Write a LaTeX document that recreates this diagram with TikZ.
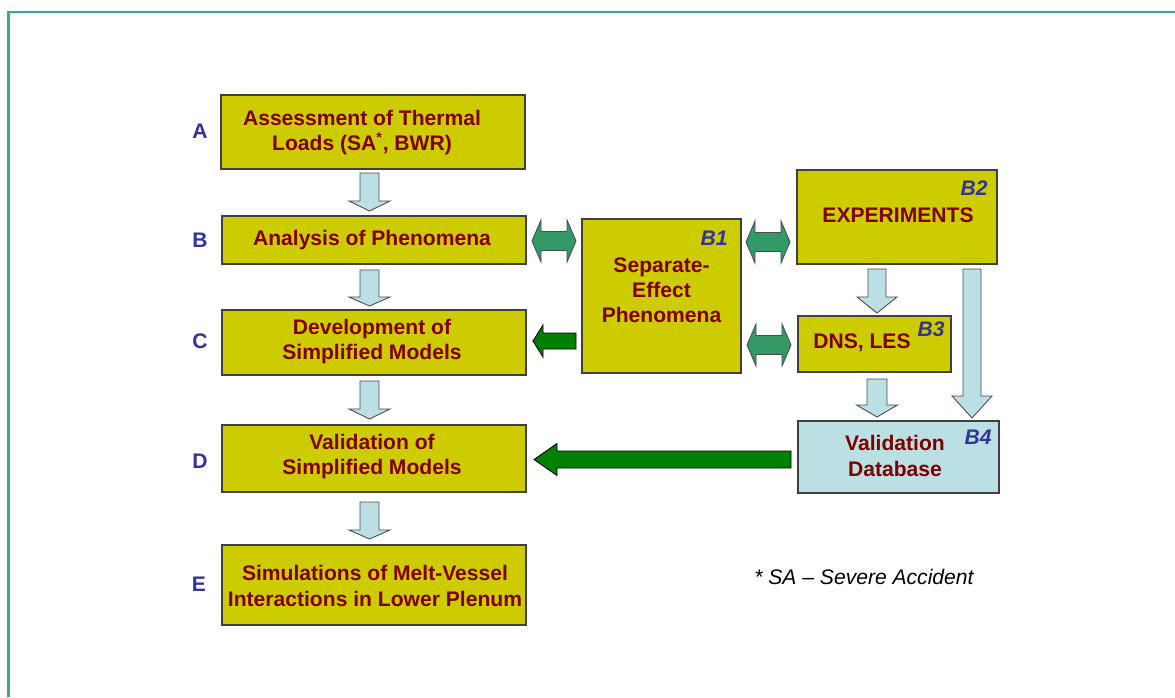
\documentclass[tikz,border=0pt]{standalone}
\usepackage{fontspec}
\setmainfont{Liberation Sans}
\usetikzlibrary{fit}

\definecolor{boxyellow}{RGB}{204,204,0}
\definecolor{boxblue}{RGB}{187,224,227}
\definecolor{txtred}{RGB}{128,0,0}
\definecolor{tagblue}{RGB}{51,51,153}
\definecolor{linkgreen}{RGB}{51,153,102}
\definecolor{feedgreen}{RGB}{0,128,0}
\definecolor{frameteal}{RGB}{60,168,148}

% downward block arrow: x, top y, head-base y, tip y, half shaft, half head
\newcommand\flowdown[6]{%
  \draw[flowarrow] (#1-#5,#2) -- (#1+#5,#2) -- (#1+#5,#3) -- (#1+#6,#3)
    -- (#1,#4) -- (#1-#6,#3) -- (#1-#5,#3) -- cycle;}
% leftward block arrow: centre y, tail x, head-base x, tip x, half shaft, half head
\newcommand\feedleft[6]{%
  \draw[feedarrow] (#2,#1-#5) -- (#3,#1-#5) -- (#3,#1-#6) -- (#4,#1)
    -- (#3,#1+#6) -- (#3,#1+#5) -- (#2,#1+#5) -- cycle;}
% two-headed block arrow: centre y, left tip, left base, right base, right tip, half shaft, half head
\newcommand\linkboth[7]{%
  \draw[linkarrow] (#2,#1) -- (#3,#1-#7) -- (#3,#1-#6) -- (#4,#1-#6) -- (#4,#1-#7)
    -- (#5,#1) -- (#4,#1+#7) -- (#4,#1+#6) -- (#3,#1+#6) -- (#3,#1+#7) -- cycle;}

\begin{document}
\begin{tikzpicture}[x=0.02cm, y=-0.02cm,
  box/.style={draw=black!75, line width=0.6pt, fill=boxyellow, inner sep=0pt},
  bluebox/.style={box, fill=boxblue},
  body/.style={text=txtred, align=center, inner sep=0pt,
    font=\fontsize{12}{14.3}\selectfont\bfseries},
  tag/.style={text=tagblue, inner sep=0pt, font=\fontsize{12}{14}\selectfont\bfseries},
  btag/.style={text=tagblue, inner sep=0pt, font=\fontsize{12}{14}\selectfont\bfseries\itshape},
  flowarrow/.style={fill=boxblue, draw=black!70, line width=0.5pt},
  linkarrow/.style={fill=linkgreen, draw=black!70, line width=0.5pt},
  feedarrow/.style={fill=feedgreen, draw=black, line width=0.5pt}]

\useasboundingbox (0,0) rectangle (1175,697);
\fill[white] (0,0) rectangle (1175,697);

% frame
\draw[frameteal, line width=1.2pt] (8.5,697) -- (8.5,12) -- (1175,12);

% main column
\node[box, fit={(221,95) (525,169)}] (A) {};
\node[box, fit={(222,216) (526,264)}] (B) {};
\node[box, fit={(222,310) (526,375)}] (C) {};
\node[box, fit={(222,425) (526,492)}] (D) {};
\node[box, fit={(222,545) (526,625)}] (E) {};

\node[body] (Atxt) at (362,132.5) {Assessment of Thermal\\Loads (SA\textsuperscript{*}, BWR)};
\node[body] (Btxt) at (372,240) {Analysis of Phenomena};
\node[body] (Ctxt) at (372,341.5) {Development of\\Simplified Models};
\node[body] (Dtxt) at (372,456.5) {Validation of\\Simplified Models};
\node[body] (Etxt) at (375,586) {Simulations of Melt-Vessel\\Interactions in Lower Plenum};

\node[tag] (tA) at (200,131) {A};
\node[tag] (tB) at (200,240) {B};
\node[tag] (tC) at (200,341) {C};
\node[tag] (tD) at (200,461) {D};
\node[tag] (tE) at (199,584) {E};

% side blocks
\node[box, fit={(582,219) (741,373)}] (B1) {};
\node[box, fit={(797,170) (997,264)}] (B2) {};
\node[box, fit={(798,316) (951,372)}] (B3) {};
\node[bluebox, fit={(798,421) (999,493)}] (B4) {};

\node[body] (B1txt) at (661.5,290) {Separate-\\Effect\\Phenomena};
\node[body] (B2txt) at (898,215) {EXPERIMENTS};
\node[body] (B3txt) at (862,343) {DNS, LES};
\node[body] (B4txt) at (895,456) {Validation\\Database};

\node[btag] (tB1) at (714,238) {B1};
\node[btag] (tB2) at (974,188) {B2};
\node[btag] (tB3) at (931,329) {B3};
\node[btag] (tB4) at (978,437) {B4};

% flow down the main column
\flowdown{369.5}{173}{201}{211}{9.5}{20.5}
\flowdown{369.5}{270}{297}{306}{9.5}{20.5}
\flowdown{369.5}{381}{409}{419}{9.5}{20.5}
\flowdown{369.5}{502}{530}{539}{9.5}{20.5}

% flow on the right
\flowdown{877}{269}{297}{313}{9}{20}
\flowdown{877}{379}{405}{417}{10}{20.5}
\flowdown{972}{269}{396}{418}{9}{20}

% exchanges with the separate-effect block
\linkboth{241}{532}{541}{567}{576}{9.5}{21}
\linkboth{242}{746}{755}{781}{790}{9.5}{21}
\linkboth{345}{747}{756}{782}{791}{9.5}{21}

% feedback arrows
\feedleft{341}{576}{543}{533}{8}{16}
\feedleft{459.5}{791}{557}{534}{8.5}{16}

% footnote
\node[anchor=west, inner sep=0pt, font=\fontsize{12}{14}\selectfont\itshape] (note)
  at (754,577) {* SA -- Severe Accident};

\end{tikzpicture}
\end{document}
